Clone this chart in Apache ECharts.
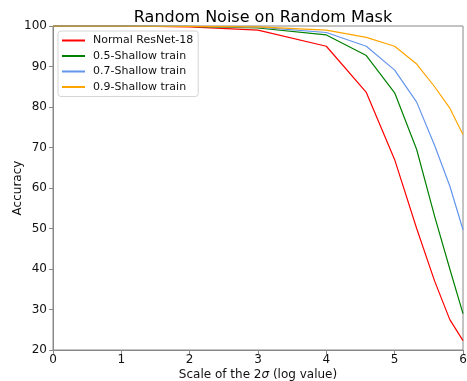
<!DOCTYPE html>
<html><head><meta charset="utf-8">
<script src="https://cdn.jsdelivr.net/npm/echarts@6/dist/echarts.min.js"></script>
<style>html,body{margin:0;padding:0;background:#fff}#c{width:467px;height:381px}</style>
</head><body><div id="c"></div>
<script>
var xValues = [0, 1, 2, 3, 4, 4.585, 5, 5.322, 5.585, 5.807, 6];
var normalResNet = [100, 100, 99.8, 99.0, 95.0, 83.6, 67.0, 50.0, 37.0, 27.5, 22.3];
var shallow05 = [100, 100, 99.9, 99.5, 97.8, 92.7, 83.5, 69.5, 53.0, 40.0, 29.0];
var shallow07 = [100, 100, 99.9, 99.7, 98.4, 95.0, 89.1, 81.2, 70.5, 60.5, 49.7];
var shallow09 = [100, 100, 99.9, 99.8, 99.0, 97.2, 95.0, 90.6, 85.0, 79.7, 73.2];
var seriesNames = ['Normal ResNet-18', '0.5-Shallow train', '0.7-Shallow train', '0.9-Shallow train'];
var seriesColors = ['#ff0000', '#008000', '#6495ed', '#ffa500'];
var seriesValues = [normalResNet, shallow05, shallow07, shallow09];

var FONT = 'DejaVu Sans';
function pairs(ys){ return xValues.map(function(x,i){ return [x, ys[i]]; }); }
var chart = echarts.init(document.getElementById('c'), null, {renderer:'canvas'});
chart.setOption({
  animation: false,
  backgroundColor: '#fff',
  textStyle: {fontFamily: FONT},
  title: {
    text: 'Random Noise on Random Mask',
    left: 258, textAlign: 'center', top: 5,
    textStyle: {fontFamily: FONT, fontSize: 16, fontWeight: 'normal', color: '#000'}
  },
  grid: {left: 53, right: 4, top: 26, bottom: 31, containLabel: false, outerBoundsMode: 'none',
         show: true, borderColor: '#888', borderWidth: 1, backgroundColor: 'transparent'},
  legend: {
    orient: 'vertical', left: 58, top: 31,
    data: seriesNames.map(function(n){ return {name: n, icon: 'rect'}; }),
    itemWidth: 23, itemHeight: 2, itemGap: 2.5,
    padding: [3, 5, 3, 4],
    backgroundColor: '#fff', borderColor: '#d5d5d5', borderWidth: 1, borderRadius: 3,
    textStyle: {fontFamily: FONT, fontSize: 11, color: '#111', lineHeight: 13, padding: [0, 0, 0, 3]}
  },
  xAxis: {
    type: 'value', min: 0, max: 6, interval: 1,
    name: 'Scale of the 2{i|σ} (log value)',
    nameLocation: 'middle', nameGap: 19, nameMoveOverlap: false,
    nameTextStyle: {fontFamily: FONT, fontSize: 12, color: '#111', rich: {i: {fontFamily: FONT, fontStyle: 'italic', fontSize: 12, color: '#111'}}},
    axisLine: {show: true, lineStyle: {color: '#888', width: 1}},
    axisTick: {show: true, length: 4, lineStyle: {color: '#888'}},
    axisLabel: {fontFamily: FONT, fontSize: 12, color: '#111', margin: 4},
    splitLine: {show: false}
  },
  yAxis: {
    type: 'value', min: 20, max: 100, interval: 10,
    name: 'Accuracy', nameLocation: 'middle', nameGap: 29, nameMoveOverlap: false,
    nameTextStyle: {fontFamily: FONT, fontSize: 12, color: '#111'},
    axisLine: {show: true, lineStyle: {color: '#888', width: 1}},
    axisTick: {show: true, length: 4, lineStyle: {color: '#888'}},
    axisLabel: {fontFamily: FONT, fontSize: 12, color: '#111', margin: 6},
    splitLine: {show: false}
  },
  series: seriesNames.map(function(n, k){
    return {
      name: n, type: 'line', data: pairs(seriesValues[k]),
      showSymbol: false, symbol: 'none', silent: true,
      lineStyle: {color: seriesColors[k], width: 1.2},
      itemStyle: {color: seriesColors[k]}
    };
  })
});
</script></body></html>
